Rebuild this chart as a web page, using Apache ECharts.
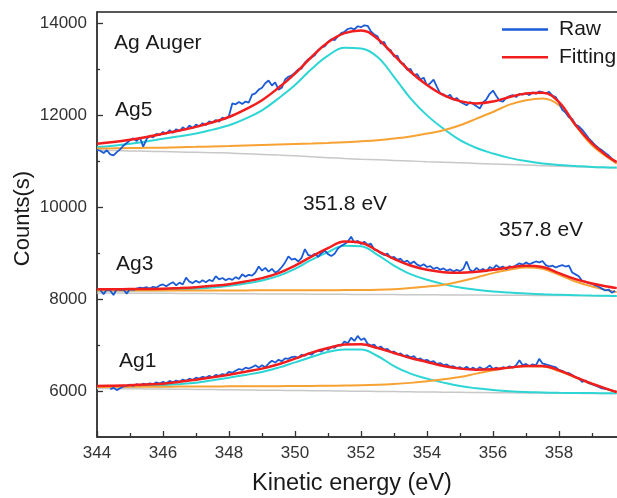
<!DOCTYPE html>
<html>
<head>
<meta charset="utf-8">
<script src="https://cdn.jsdelivr.net/npm/echarts@6/dist/echarts.min.js"></script>
<style>
  html, body { margin: 0; padding: 0; background: #ffffff; }
  #chart { width: 617px; height: 498px; }
</style>
</head>
<body>
<div id="chart"></div>
<script>
// Ag Auger (MNN) spectra of samples Ag1, Ag3, Ag5: raw counts plus peak fitting.

// Energy grid of the fitted curves (eV)
const FIT_EV = [344, 344.5, 345, 345.5, 346, 346.5, 347, 347.5, 348, 348.5, 349, 349.5,
  350, 350.5, 351, 351.5, 352, 352.5, 353, 353.5, 354, 354.5, 355, 355.5, 356, 356.5,
  357, 357.5, 358, 358.5, 359, 359.5, 359.75];

// ---- Ag5 ----
const AG5_FIT = [11380, 11420, 11470, 11530, 11600, 11670, 11750, 11850, 11965, 12130, 12330, 12600,
  12910, 13270, 13590, 13790, 13850, 13670, 13310, 12950, 12660, 12440, 12310, 12260, 12300, 12400,
  12475, 12490, 12290, 11790, 11390, 11095, 10985];
const AG5_PEAK1 = [11310, 11340, 11380, 11430, 11490, 11545, 11605, 11690, 11785, 11930, 12110, 12370,
  12660, 13010, 13300, 13470, 13455, 13270, 12840, 12370, 12000, 11710, 11460, 11290, 11170, 11075,
  11005, 10955, 10920, 10898, 10878, 10868, 10865];
const AG5_PEAK2 = [11277, 11282, 11288, 11293, 11298, 11307, 11315, 11324, 11333, 11344, 11355, 11366,
  11377, 11388, 11400, 11415, 11436, 11460, 11495, 11540, 11604, 11675, 11784, 11930, 12074, 12235,
  12329, 12366, 12220, 11784, 11349, 11072, 10950];
const AG5_BG = [11240, 11233, 11226, 11219, 11212, 11204, 11196, 11188, 11180, 11165, 11150, 11135,
  11120, 11100, 11080, 11060, 11044, 11032, 11020, 11006, 10992, 10980, 10968, 10955, 10942, 10930,
  10918, 10906, 10894, 10882, 10870, 10860, 10855];

// ---- Ag3 ----
const AG3_FIT = [8218, 8218, 8219, 8221, 8224, 8240, 8261, 8290, 8327, 8385, 8458, 8567,
  8732, 8928, 9111, 9255, 9230, 9052, 8878, 8732, 8638, 8588, 8573, 8595, 8638, 8689,
  8726, 8700, 8567, 8436, 8340, 8268, 8240];
const AG3_PEAK1 = [8187, 8188, 8190, 8193, 8196, 8208, 8224, 8252, 8290, 8340, 8405, 8508,
  8660, 8856, 9024, 9161, 9150, 8965, 8732, 8545, 8421, 8327, 8253, 8203, 8166, 8144,
  8122, 8109, 8094, 8087, 8078, 8072, 8070];
const AG3_PEAK2 = [8186, 8186, 8187, 8187, 8188, 8188, 8189, 8189, 8190, 8191, 8192, 8193,
  8194, 8195, 8196, 8197, 8199, 8205, 8218, 8242, 8275, 8312, 8384, 8471, 8567, 8638,
  8689, 8660, 8530, 8384, 8275, 8187, 8153];
const AG3_BG = [8135, 8133, 8131, 8129, 8127, 8125, 8123, 8121, 8119, 8117, 8115, 8113,
  8111, 8109, 8107, 8105, 8103, 8101, 8099, 8097, 8095, 8093, 8091, 8089, 8087, 8085,
  8083, 8081, 8079, 8077, 8075, 8072, 8070];

// ---- Ag1 ----
const AG1_FIT = [6109, 6117, 6128, 6143, 6161, 6200, 6248, 6300, 6357, 6420, 6488, 6582,
  6706, 6837, 6937, 7011, 7018, 6937, 6828, 6719, 6632, 6545, 6488, 6466, 6473, 6510,
  6545, 6545, 6451, 6305, 6161, 6037, 5978];
const AG1_PEAK1 = [6087, 6093, 6100, 6111, 6124, 6150, 6183, 6235, 6292, 6350, 6414, 6510,
  6625, 6741, 6850, 6902, 6902, 6763, 6545, 6379, 6270, 6183, 6109, 6059, 6022, 5994,
  5978, 5970, 5962, 5958, 5955, 5952, 5950];
const AG1_PEAK2 = [6087, 6089, 6091, 6093, 6095, 6097, 6099, 6100, 6102, 6104, 6105, 6107,
  6109, 6112, 6115, 6119, 6124, 6135, 6153, 6178, 6211, 6255, 6305, 6379, 6451, 6510,
  6538, 6532, 6436, 6292, 6146, 6030, 5978];
const AG1_BG = [6055, 6052, 6049, 6046, 6043, 6040, 6036, 6032, 6028, 6024, 6020, 6016,
  6012, 6008, 6004, 6000, 5996, 5992, 5988, 5984, 5980, 5976, 5972, 5968, 5964, 5961,
  5958, 5955, 5952, 5950, 5948, 5946, 5945];

// Raw counts, sampled every 0.1 eV from each start energy
const RAW_STEP = 0.1;
const AG5_RAW_START = 344.0;
const AG5_RAW = [
  11250, 11230, 11180, 11240, 11150, 11130, 11200, 11260, 11340, 11400,
  11460, 11500, 11440, 11520, 11320, 11480, 11560, 11520, 11600, 11570,
  11640, 11600, 11680, 11620, 11700, 11660, 11740, 11690, 11780, 11720,
  11800, 11760, 11830, 11790, 11870, 11840, 11900, 11860, 11950, 11930,
  11990,
  12260, 12240, 12290, 12250, 12300, 12280, 12450, 12480, 12560, 12600,
  12700, 12760, 12650, 12720, 12560, 12600, 12780, 12840, 12870, 12930,
  13000, 13020, 13150, 13220, 13260, 13310, 13420, 13480, 13500, 13600,
  13660, 13640, 13720, 13790, 13820,
  13880, 13900, 13870, 13940, 13920, 13960, 13950, 13830, 13760, 13720,
  13560, 13600, 13440, 13420, 13280, 13300, 13150, 13120, 12990, 13010,
  12870, 12900, 12780, 12820, 12650,
  12700, 12780, 12620, 12480, 12460, 12400, 12450, 12340, 12380, 12300,
  12260, 12220, 12290, 12250, 12200, 12150, 12280, 12350, 12470, 12540,
  12420, 12320, 12300, 12380, 12420, 12440, 12400, 12470, 12450, 12480,
  12440, 12500, 12470, 12520, 12500, 12480, 12510, 12430, 12400, 12280,
  12120, 12060, 11960, 11920, 11800, 11760, 11690, 11600, 11500, 11430,
  11350, 11290, 11240, 11180, 11130, 11060, 10990];

const AG3_RAW_START = 344.1;
const AG3_RAW = [
  8200, 8110, 8210, 8190, 8090, 8220, 8200, 8210, 8120, 8220,
  8200, 8230, 8250, 8240, 8260, 8230, 8270, 8250, 8300, 8320,
  8280, 8330, 8370, 8300, 8360, 8320, 8470, 8380, 8350, 8400,
  8360, 8410, 8370, 8420, 8390, 8500, 8430, 8460, 8410, 8450,
  8420, 8480, 8440, 8540, 8490, 8530, 8510, 8580, 8710, 8620,
  8680, 8600, 8660, 8580, 8620, 8700, 8800, 8930, 8860, 8880,
  8820, 8900, 9090, 8960, 8940, 8990, 8920, 9000, 9060, 8980,
  8940, 8990, 9100, 9160, 9200, 9250, 9360, 9230, 9270, 9200,
  9250, 9180, 9210, 9080, 9060, 9000, 8960, 8990, 8900, 8920,
  8860, 8880, 8800, 8840, 8770, 8820, 8750, 8720, 8760, 8700,
  8720, 8660, 8690, 8640, 8670, 8620, 8650, 8600, 8640, 8610,
  8660, 8820, 8640, 8600, 8680, 8620, 8660, 8600, 8700, 8660,
  8740, 8680, 8710, 8650, 8720, 8690, 8740, 8780, 8750, 8800,
  8760, 8790, 8820, 8800, 8830, 8740, 8710, 8730, 8690, 8720,
  8740, 8710, 8730, 8580, 8540, 8500, 8400, 8380, 8350, 8330,
  8300, 8270, 8230, 8190, 8210, 8140, 8180];

const AG1_RAW_START = 344.4;
const AG1_RAW = [
  6040, 6070, 6020, 6060, 6100, 6120, 6140, 6110, 6150, 6120,
  6160, 6140, 6170, 6150, 6190, 6160, 6200, 6170, 6220, 6190,
  6230, 6200, 6250, 6220, 6270, 6240, 6290, 6270, 6310, 6290,
  6330, 6300, 6350, 6330, 6370, 6350, 6420, 6400, 6440, 6480,
  6460, 6510, 6490, 6520, 6560, 6510, 6560, 6520, 6600, 6660,
  6620, 6680, 6650, 6710, 6700, 6740, 6750, 6720, 6790, 6770,
  6820, 6790, 6850, 6880, 6860, 6920, 6900, 6960, 6940, 7000,
  6990, 7080, 7040, 7160, 7090, 7200, 7110, 7150, 7030, 6990,
  7010, 6930, 6970, 6900, 6920, 6850, 6860, 6800, 6820, 6760,
  6780, 6730, 6760, 6690, 6710, 6660, 6680, 6630, 6650, 6590,
  6610, 6560, 6580, 6530, 6540, 6500, 6520, 6480, 6530, 6470,
  6510, 6460, 6520, 6480, 6500, 6560, 6480, 6510, 6470, 6520,
  6500, 6540, 6510, 6560, 6670, 6560, 6590, 6540, 6580, 6560,
  6700, 6600, 6580, 6560, 6540, 6520, 6460, 6440, 6400, 6390,
  6350, 6300, 6280, 6200, 6230, 6170, 6150, 6120, 6090, 6060,
  6050, 6030, 6010, 5990];

// Axis ticks and labels
const X_LABELS = [344, 346, 348, 350, 352, 354, 356, 358];
const Y_LABELS = [6000, 8000, 10000, 12000, 14000];
const Y_MINOR = [7000, 9000, 11000, 13000];

const COLORS = { raw: '#1c5bd6', fit: '#f21d1d', peak1: '#2dd5d5', peak2: '#f7a232', bg: '#c8c8c8' };
const FONT = '"Liberation Sans", Arial, Helvetica, sans-serif';

function rawPairs(start, vals) {
  return vals.map((v, i) => [+(start + i * RAW_STEP).toFixed(2), v]);
}
function fitPairs(vals) {
  return vals.map((v, i) => [FIT_EV[i], v]);
}
function line(name, data, color, width, smooth) {
  return {
    name: name, type: 'line', data: data, symbol: 'none', smooth: smooth,
    lineStyle: { color: color, width: width }, itemStyle: { color: color },
    silent: true, animation: false
  };
}
function spectrum(tag, raw, rawStart, fit, p1, p2, bg) {
  return [
    line(tag + ' background', fitPairs(bg), COLORS.bg, 1.5, 0.3),
    line(tag + ' peak 1', fitPairs(p1), COLORS.peak1, 2, 0.4),
    line(tag + ' peak 2', fitPairs(p2), COLORS.peak2, 2, 0.4),
    line('Raw', rawPairs(rawStart, raw), COLORS.raw, 1.8, false),
    line('Fitting', fitPairs(fit), COLORS.fit, 2.5, 0.4)
  ];
}

const series = [].concat(
  spectrum('Ag5', AG5_RAW, AG5_RAW_START, AG5_FIT, AG5_PEAK1, AG5_PEAK2, AG5_BG),
  spectrum('Ag3', AG3_RAW, AG3_RAW_START, AG3_FIT, AG3_PEAK1, AG3_PEAK2, AG3_BG),
  spectrum('Ag1', AG1_RAW, AG1_RAW_START, AG1_FIT, AG1_PEAK1, AG1_PEAK2, AG1_BG)
);

function note(text, x, y, size) {
  return {
    type: 'text', x: x, y: y, silent: true,
    style: { text: text, fill: '#1a1a1a', font: size + 'px ' + FONT, textAlign: 'left', textVerticalAlign: 'middle' }
  };
}

const chart = echarts.init(document.getElementById('chart'), null, { renderer: 'canvas' });
chart.setOption({
  animation: false,
  backgroundColor: '#ffffff',
  grid: {
    left: 97, right: -8, top: 12, bottom: 61, outerBoundsMode: 'none', containLabel: false,
    show: true, borderColor: '#222', borderWidth: 1.3, backgroundColor: 'transparent'
  },
  legend: {
    data: ['Raw', 'Fitting'], orient: 'vertical', left: 497, top: 14,
    icon: 'rect', itemWidth: 46, itemHeight: 2.5, itemGap: 6.7, selectedMode: false,
    textStyle: { fontFamily: FONT, fontSize: 21, color: '#1a1a1a', lineHeight: 20, padding: [0, 0, 0, 6] }
  },
  xAxis: {
    type: 'value', min: 344, max: 360, interval: 2,
    axisLine: { lineStyle: { color: '#333', width: 1.5 } },
    axisTick: { show: true, inside: true, length: 6, lineStyle: { color: '#333', width: 1.3 } },
    minorTick: { show: true, splitNumber: 2, length: 4, lineStyle: { color: '#333', width: 1.3 } },
    axisLabel: { customValues: X_LABELS, fontFamily: FONT, fontSize: 17, color: '#333', margin: 8 },
    splitLine: { show: false }, minorSplitLine: { show: false }
  },
  yAxis: [{
    type: 'value', min: 5000, max: 14250, position: 'left',
    axisLine: { show: true, lineStyle: { color: '#333', width: 1.5 } },
    axisTick: { show: true, inside: true, length: 6, customValues: Y_LABELS, lineStyle: { color: '#333', width: 1.3 } },
    axisLabel: { customValues: Y_LABELS, formatter: (v) => String(v), fontFamily: FONT, fontSize: 17, color: '#333', margin: 10 },
    splitLine: { show: false }
  }, {
    type: 'value', min: 5000, max: 14250, position: 'left',
    axisLine: { show: false },
    axisTick: { show: true, inside: true, length: 3, customValues: Y_MINOR, lineStyle: { color: '#333', width: 1.3 } },
    axisLabel: { show: false },
    splitLine: { show: false }
  }],
  graphic: [
    note('Ag Auger', 114, 43, 21),
    note('Ag5', 115, 110, 21),
    note('Ag3', 116, 264, 21),
    note('Ag1', 119, 361, 21),
    note('351.8 eV', 303, 204, 21),
    note('357.8 eV', 499, 230, 21),
    {
      type: 'text', x: 23, y: 218.5, rotation: Math.PI / 2, silent: true,
      style: { text: 'Counts(s)', fill: '#1a1a1a', font: '22px ' + FONT, textAlign: 'center', textVerticalAlign: 'middle' }
    },
    {
      type: 'text', x: 352, y: 484, silent: true,
      style: { text: 'Kinetic energy (eV)', fill: '#1a1a1a', font: '23.5px ' + FONT, textAlign: 'center', textVerticalAlign: 'middle' }
    }
  ],
  series: series
});
</script>
</body>
</html>
